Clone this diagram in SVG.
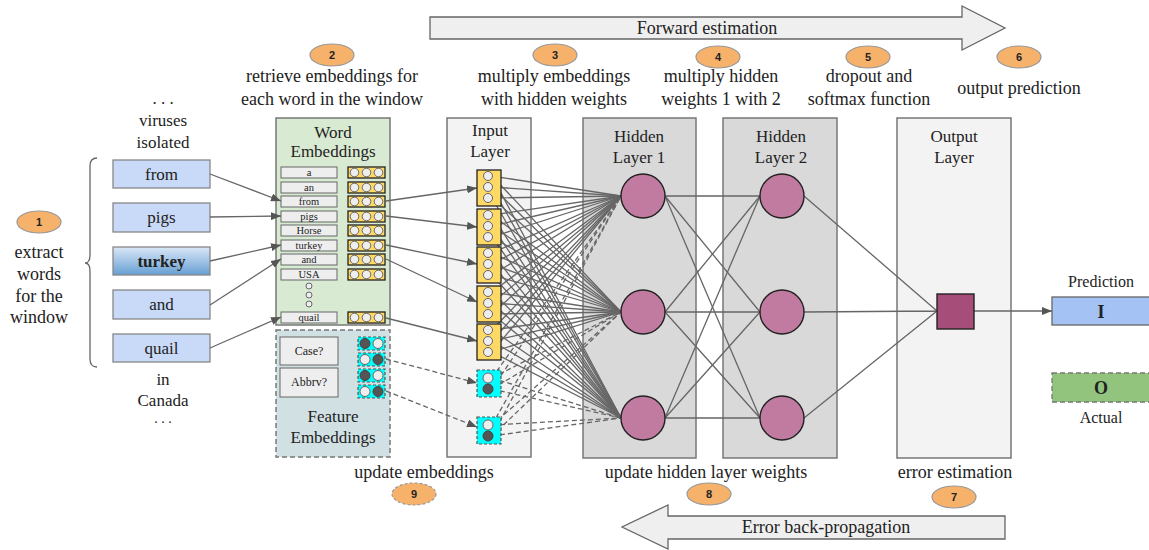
<svg xmlns="http://www.w3.org/2000/svg" width="1149" height="550" viewBox="0 0 1149 550">
<style>
text{font-family:"Liberation Serif","Times New Roman",serif;fill:#222;}
.t18{font-size:18px;text-anchor:middle;}
.t17{font-size:17px;text-anchor:middle;}
.t16{font-size:16px;text-anchor:middle;}
.sm{font-size:10.5px;text-anchor:middle;}
.num{fill:#f6b26b;stroke:#999;stroke-width:1.2;}
.numt{font-family:"Liberation Sans",Arial,sans-serif;font-weight:bold;font-size:11px;text-anchor:middle;}
.word{fill:#c9daf8;stroke:#888;stroke-width:1.3;}
.lbl{fill:#eeeeee;stroke:#666;stroke-width:1;}
.emb{fill:#ffd966;stroke:#222;stroke-width:1.3;}
.ec{fill:#eeeeee;stroke:#666;stroke-width:1;}
.cy{fill:#00ffff;stroke:#555;stroke-width:1.2;stroke-dasharray:3 2;}
.dk{fill:#555;stroke:#444;stroke-width:1;}
.hn{fill:#c27ba0;stroke:#222;stroke-width:1.4;}
.c{stroke:#666;stroke-width:1.3;fill:none;}
.d{stroke:#666;stroke-width:1.3;fill:none;stroke-dasharray:5 3;}
.layer{stroke:#777;stroke-width:1.5;}
</style>
<defs>
<marker id="ah" markerWidth="10" markerHeight="8" refX="10" refY="4" orient="auto" markerUnits="userSpaceOnUse">
<path d="M0,0 L10,4 L0,8 z" fill="#555"/>
</marker>
<linearGradient id="tg" x1="0" y1="0" x2="0" y2="1">
<stop offset="0" stop-color="#dbe7f7"/>
<stop offset="1" stop-color="#669fd3"/>
</linearGradient>
</defs>

<!-- big arrows -->
<g id="forward">
<polygon points="430,17 962,17 962,6 1005,28 962,50 962,39 430,39" fill="#efefef" stroke="#666" stroke-width="1.3"/>
<text class="t18" x="707" y="34">Forward estimation</text>
</g>
<g id="backward">
<polygon points="1005,516 668,516 668,505 622,527 668,549 668,539 1005,539" fill="#efefef" stroke="#666" stroke-width="1.3"/>
<text class="t18" x="826" y="533">Error back-propagation</text>
</g>

<!-- step labels -->
<g id="step1">
<ellipse class="num" cx="39" cy="222" rx="22" ry="11"/><text class="numt" x="39" y="226">1</text>
<text class="t18" x="39" y="258">extract</text>
<text class="t18" x="39" y="280">words</text>
<text class="t18" x="39" y="302">for the</text>
<text class="t18" x="39" y="323">window</text>
</g>
<g id="step2">
<ellipse class="num" cx="332" cy="55" rx="22" ry="11"/><text class="numt" x="332" y="59">2</text>
<text class="t18" x="332" y="82">retrieve embeddings for</text>
<text class="t18" x="332" y="105">each word in the window</text>
</g>
<g id="step3">
<ellipse class="num" cx="555" cy="55" rx="22" ry="11"/><text class="numt" x="555" y="59">3</text>
<text class="t18" x="554" y="82">multiply embeddings</text>
<text class="t18" x="554" y="105">with hidden weights</text>
</g>
<g id="step4">
<ellipse class="num" cx="718" cy="57" rx="22" ry="11"/><text class="numt" x="718" y="61">4</text>
<text class="t18" x="721" y="82">multiply hidden</text>
<text class="t18" x="721" y="105">weights 1 with 2</text>
</g>
<g id="step5">
<ellipse class="num" cx="868" cy="57" rx="22" ry="11"/><text class="numt" x="868" y="61">5</text>
<text class="t18" x="869" y="82">dropout and</text>
<text class="t18" x="869" y="105">softmax function</text>
</g>
<g id="step6">
<ellipse class="num" cx="1019" cy="57" rx="22" ry="11"/><text class="numt" x="1019" y="61">6</text>
<text class="t18" x="1019" y="94">output prediction</text>
</g>
<g id="step7">
<text class="t18" x="955" y="478">error estimation</text>
<ellipse class="num" cx="954" cy="497" rx="22" ry="11"/><text class="numt" x="954" y="501">7</text>
</g>
<g id="step8">
<text class="t18" x="706" y="478">update hidden layer weights</text>
<ellipse class="num" cx="709" cy="494" rx="22" ry="11"/><text class="numt" x="709" y="498">8</text>
</g>
<g id="step9">
<text class="t18" x="424" y="478">update embeddings</text>
<ellipse class="num" cx="414" cy="494" rx="22" ry="11" stroke-dasharray="3 2"/><text class="numt" x="414" y="498">9</text>
</g>

<!-- context words -->
<g id="context">
<text class="t17" x="163" y="104">. . .</text>
<text class="t17" x="163" y="126">viruses</text>
<text class="t17" x="163" y="148">isolated</text>
<text class="t17" x="163" y="385">in</text>
<text class="t17" x="163" y="406">Canada</text>
<text font-size="14" text-anchor="middle" x="163" y="423">. . .</text>
<path class="c" d="M97 158 Q90 158 90 166 L90 255 Q90 263 85 263 Q90 263 90 271 L90 359 Q90 367 97 367"/>
</g>

<!-- window words -->
<g id="w-from"><rect class="word" x="113" y="160" width="97" height="28"/><text class="t17" x="161.5" y="180">from</text></g>
<g id="w-pigs"><rect class="word" x="113" y="203" width="97" height="29"/><text class="t17" x="161.5" y="223">pigs</text></g>
<g id="w-turkey"><rect x="113" y="247" width="97" height="28" fill="url(#tg)" stroke="#888" stroke-width="1.3"/><text class="t17" x="161.5" y="267" font-weight="bold">turkey</text></g>
<g id="w-and"><rect class="word" x="113" y="290" width="97" height="29"/><text class="t17" x="161.5" y="310">and</text></g>
<g id="w-quail"><rect class="word" x="113" y="334" width="97" height="28"/><text class="t17" x="161.5" y="354">quail</text></g>

<!-- word embeddings -->
<g id="word-embeddings">
<rect x="276" y="118" width="114" height="207" fill="#d9ead3" stroke="#777" stroke-width="1.5"/>
<text class="t17" x="333" y="138">Word</text>
<text class="t17" x="333" y="157">Embeddings</text>
<g>
<rect class="lbl" x="281" y="167" width="56" height="11"/><text class="sm" x="309" y="176">a</text>
<rect class="lbl" x="281" y="182" width="56" height="11"/><text class="sm" x="309" y="191">an</text>
<rect class="lbl" x="281" y="196" width="56" height="11"/><text class="sm" x="309" y="205">from</text>
<rect class="lbl" x="281" y="211" width="56" height="11"/><text class="sm" x="309" y="220">pigs</text>
<rect class="lbl" x="281" y="225" width="56" height="11"/><text class="sm" x="309" y="234">Horse</text>
<rect class="lbl" x="281" y="240" width="56" height="11"/><text class="sm" x="309" y="249">turkey</text>
<rect class="lbl" x="281" y="254" width="56" height="11"/><text class="sm" x="309" y="263">and</text>
<rect class="lbl" x="281" y="269" width="56" height="11"/><text class="sm" x="309" y="278">USA</text>
<rect class="lbl" x="281" y="312" width="56" height="11"/><text class="sm" x="309" y="321">quail</text>
</g>
<circle cx="309" cy="286" r="3" fill="#eee" stroke="#666"/>
<circle cx="309" cy="295" r="3" fill="#eee" stroke="#666"/>
<circle cx="309" cy="304" r="3" fill="#eee" stroke="#666"/>
<g>
<rect class="emb" x="348" y="167" width="37" height="11"/><circle class="ec" cx="354.5" cy="172.5" r="4.3"/><circle class="ec" cx="366.5" cy="172.5" r="4.3"/><circle class="ec" cx="378.5" cy="172.5" r="4.3"/>
<rect class="emb" x="348" y="182" width="37" height="11"/><circle class="ec" cx="354.5" cy="187.5" r="4.3"/><circle class="ec" cx="366.5" cy="187.5" r="4.3"/><circle class="ec" cx="378.5" cy="187.5" r="4.3"/>
<rect class="emb" x="348" y="196" width="37" height="11"/><circle class="ec" cx="354.5" cy="201.5" r="4.3"/><circle class="ec" cx="366.5" cy="201.5" r="4.3"/><circle class="ec" cx="378.5" cy="201.5" r="4.3"/>
<rect class="emb" x="348" y="211" width="37" height="11"/><circle class="ec" cx="354.5" cy="216.5" r="4.3"/><circle class="ec" cx="366.5" cy="216.5" r="4.3"/><circle class="ec" cx="378.5" cy="216.5" r="4.3"/>
<rect class="emb" x="348" y="225" width="37" height="11"/><circle class="ec" cx="354.5" cy="230.5" r="4.3"/><circle class="ec" cx="366.5" cy="230.5" r="4.3"/><circle class="ec" cx="378.5" cy="230.5" r="4.3"/>
<rect class="emb" x="348" y="240" width="37" height="11"/><circle class="ec" cx="354.5" cy="245.5" r="4.3"/><circle class="ec" cx="366.5" cy="245.5" r="4.3"/><circle class="ec" cx="378.5" cy="245.5" r="4.3"/>
<rect class="emb" x="348" y="254" width="37" height="11"/><circle class="ec" cx="354.5" cy="259.5" r="4.3"/><circle class="ec" cx="366.5" cy="259.5" r="4.3"/><circle class="ec" cx="378.5" cy="259.5" r="4.3"/>
<rect class="emb" x="348" y="269" width="37" height="11"/><circle class="ec" cx="354.5" cy="274.5" r="4.3"/><circle class="ec" cx="366.5" cy="274.5" r="4.3"/><circle class="ec" cx="378.5" cy="274.5" r="4.3"/>
<rect class="emb" x="348" y="312" width="37" height="11"/><circle class="ec" cx="354.5" cy="317.5" r="4.3"/><circle class="ec" cx="366.5" cy="317.5" r="4.3"/><circle class="ec" cx="378.5" cy="317.5" r="4.3"/>
</g>
</g>

<!-- feature embeddings -->
<g id="feature-embeddings">
<rect x="276" y="330" width="114" height="127" fill="#d0e0e3" stroke="#777" stroke-width="1.5" stroke-dasharray="5 3"/>
<rect class="lbl" x="280" y="337" width="58" height="28"/><text font-size="12" text-anchor="middle" x="309" y="355">Case?</text>
<rect class="lbl" x="280" y="368" width="58" height="29"/><text font-size="12" text-anchor="middle" x="309" y="386">Abbrv?</text>
<rect class="cy" x="358" y="337" width="27" height="13"/><circle class="dk" cx="365" cy="343.5" r="5"/><circle class="ec" cx="378" cy="343.5" r="5"/>
<rect class="cy" x="358" y="353" width="27" height="13"/><circle class="ec" cx="365" cy="359.5" r="5"/><circle class="dk" cx="378" cy="359.5" r="5"/>
<rect class="cy" x="358" y="369" width="27" height="13"/><circle class="dk" cx="365" cy="375.5" r="5"/><circle class="ec" cx="378" cy="375.5" r="5"/>
<rect class="cy" x="358" y="385" width="27" height="13"/><circle class="ec" cx="365" cy="391.5" r="5"/><circle class="dk" cx="378" cy="391.5" r="5"/>
<text class="t17" x="333" y="422">Feature</text>
<text class="t17" x="333" y="443">Embeddings</text>
</g>

<!-- layer boxes -->
<g id="input-layer-box">
<rect class="layer" x="447" y="118" width="84" height="339" fill="#f3f3f3"/>
<text class="t17" x="490" y="136">Input</text>
<text class="t17" x="490" y="157">Layer</text>
</g>
<g id="hidden-layer-1-box">
<rect class="layer" x="583" y="118" width="113" height="340" fill="#d9d9d9"/>
<text class="t17" x="639" y="142">Hidden</text>
<text class="t17" x="639" y="163">Layer 1</text>
</g>
<g id="hidden-layer-2-box">
<rect class="layer" x="723" y="118" width="114" height="340" fill="#d9d9d9"/>
<text class="t17" x="781" y="142">Hidden</text>
<text class="t17" x="781" y="163">Layer 2</text>
</g>
<g id="output-layer-box">
<rect class="layer" x="897" y="118" width="114" height="340" fill="#f3f3f3"/>
<text class="t17" x="954" y="142">Output</text>
<text class="t17" x="954" y="163">Layer</text>
</g>

<!-- connectors -->
<g id="connectors">
<path class="c" marker-end="url(#ah)" d="M210 174L281 201"/>
<path class="c" marker-end="url(#ah)" d="M210 217L281 216"/>
<path class="c" marker-end="url(#ah)" d="M210 261L281 245"/>
<path class="c" marker-end="url(#ah)" d="M210 305L281 259"/>
<path class="c" marker-end="url(#ah)" d="M210 348L281 317"/>
<path class="c" marker-end="url(#ah)" d="M386 201L477 188"/>
<path class="c" marker-end="url(#ah)" d="M386 216L477 227"/>
<path class="c" marker-end="url(#ah)" d="M386 245L477 264"/>
<path class="c" marker-end="url(#ah)" d="M386 259L477 302"/>
<path class="c" marker-end="url(#ah)" d="M386 318L477 341"/>
<path class="d" marker-end="url(#ah)" d="M386 359L477 383"/>
<path class="d" marker-end="url(#ah)" d="M386 391L477 427"/>
<path class="c" d="M492 176L621 196M492 176L621 312M492 176L621 418"/>
<path class="c" d="M492 187L621 196M492 187L621 312M492 187L621 418"/>
<path class="c" d="M492 198L621 196M492 198L621 312M492 198L621 418"/>
<path class="c" d="M492 215L621 196M492 215L621 312M492 215L621 418"/>
<path class="c" d="M492 226L621 196M492 226L621 312M492 226L621 418"/>
<path class="c" d="M492 237L621 196M492 237L621 312M492 237L621 418"/>
<path class="c" d="M492 253L621 196M492 253L621 312M492 253L621 418"/>
<path class="c" d="M492 264L621 196M492 264L621 312M492 264L621 418"/>
<path class="c" d="M492 275L621 196M492 275L621 312M492 275L621 418"/>
<path class="c" d="M492 292L621 196M492 292L621 312M492 292L621 418"/>
<path class="c" d="M492 303L621 196M492 303L621 312M492 303L621 418"/>
<path class="c" d="M492 314L621 196M492 314L621 312M492 314L621 418"/>
<path class="c" d="M492 330L621 196M492 330L621 312M492 330L621 418"/>
<path class="c" d="M492 341L621 196M492 341L621 312M492 341L621 418"/>
<path class="c" d="M492 352L621 196M492 352L621 312M492 352L621 418"/>
<path class="d" d="M492 378L621 196M492 378L621 312M492 378L621 418"/>
<path class="d" d="M492 389L621 196M492 389L621 312M492 389L621 418"/>
<path class="d" d="M492 425L621 196M492 425L621 312M492 425L621 418"/>
<path class="d" d="M492 436L621 196M492 436L621 312M492 436L621 418"/>
<path class="c" d="M665 196L760 196M665 196L760 312M665 196L760 418"/>
<path class="c" d="M665 312L760 196M665 312L760 312M665 312L760 418"/>
<path class="c" d="M665 418L760 196M665 418L760 312M665 418L760 418"/>
<path class="c" d="M804 196L937 311M804 312L937 311M804 418L937 311"/>
<path class="c" marker-end="url(#ah)" d="M974 311L1052 311"/>
</g>

<!-- input nodes -->
<g id="input-1"><rect class="emb" x="477" y="170" width="24" height="36"/><circle class="ec" cx="488" cy="176" r="4.5"/><circle class="ec" cx="488" cy="187" r="4.5"/><circle class="ec" cx="488" cy="198" r="4.5"/></g>
<g id="input-2"><rect class="emb" x="477" y="209" width="24" height="36"/><circle class="ec" cx="488" cy="215" r="4.5"/><circle class="ec" cx="488" cy="226" r="4.5"/><circle class="ec" cx="488" cy="237" r="4.5"/></g>
<g id="input-3"><rect class="emb" x="477" y="247" width="24" height="36"/><circle class="ec" cx="488" cy="253" r="4.5"/><circle class="ec" cx="488" cy="264" r="4.5"/><circle class="ec" cx="488" cy="275" r="4.5"/></g>
<g id="input-4"><rect class="emb" x="477" y="286" width="24" height="36"/><circle class="ec" cx="488" cy="292" r="4.5"/><circle class="ec" cx="488" cy="303" r="4.5"/><circle class="ec" cx="488" cy="314" r="4.5"/></g>
<g id="input-5"><rect class="emb" x="477" y="324" width="24" height="36"/><circle class="ec" cx="488" cy="330" r="4.5"/><circle class="ec" cx="488" cy="341" r="4.5"/><circle class="ec" cx="488" cy="352" r="4.5"/></g>
<g id="input-f1"><rect class="cy" x="477" y="370" width="24" height="27"/><circle class="ec" cx="488" cy="378" r="5"/><circle class="dk" cx="488" cy="389" r="5"/></g>
<g id="input-f2"><rect class="cy" x="477" y="417" width="24" height="27"/><circle class="ec" cx="488" cy="425" r="5"/><circle class="dk" cx="488" cy="436" r="5"/></g>

<!-- hidden nodes -->
<g id="h1-1"><circle class="hn" cx="643" cy="196" r="22"/></g>
<g id="h1-2"><circle class="hn" cx="643" cy="312" r="22"/></g>
<g id="h1-3"><circle class="hn" cx="643" cy="418" r="22"/></g>
<g id="h2-1"><circle class="hn" cx="782" cy="196" r="22"/></g>
<g id="h2-2"><circle class="hn" cx="782" cy="312" r="22"/></g>
<g id="h2-3"><circle class="hn" cx="782" cy="418" r="22"/></g>

<!-- output -->
<g id="output-node"><rect x="937" y="294" width="37" height="35" fill="#a64d79" stroke="#222" stroke-width="1.4"/></g>
<g id="prediction">
<text class="t16" x="1101" y="287">Prediction</text>
<rect x="1052" y="297" width="100" height="28" fill="#a4c2f4" stroke="#666" stroke-width="1.3"/>
<text class="t18" x="1101" y="318" font-weight="bold">I</text>
</g>
<g id="actual">
<rect x="1052" y="373" width="100" height="29" fill="#93c47d" stroke="#777" stroke-width="1.3" stroke-dasharray="5 3"/>
<text class="t18" x="1101" y="394" font-weight="bold">O</text>
<text class="t16" x="1101" y="423">Actual</text>
</g>
</svg>
